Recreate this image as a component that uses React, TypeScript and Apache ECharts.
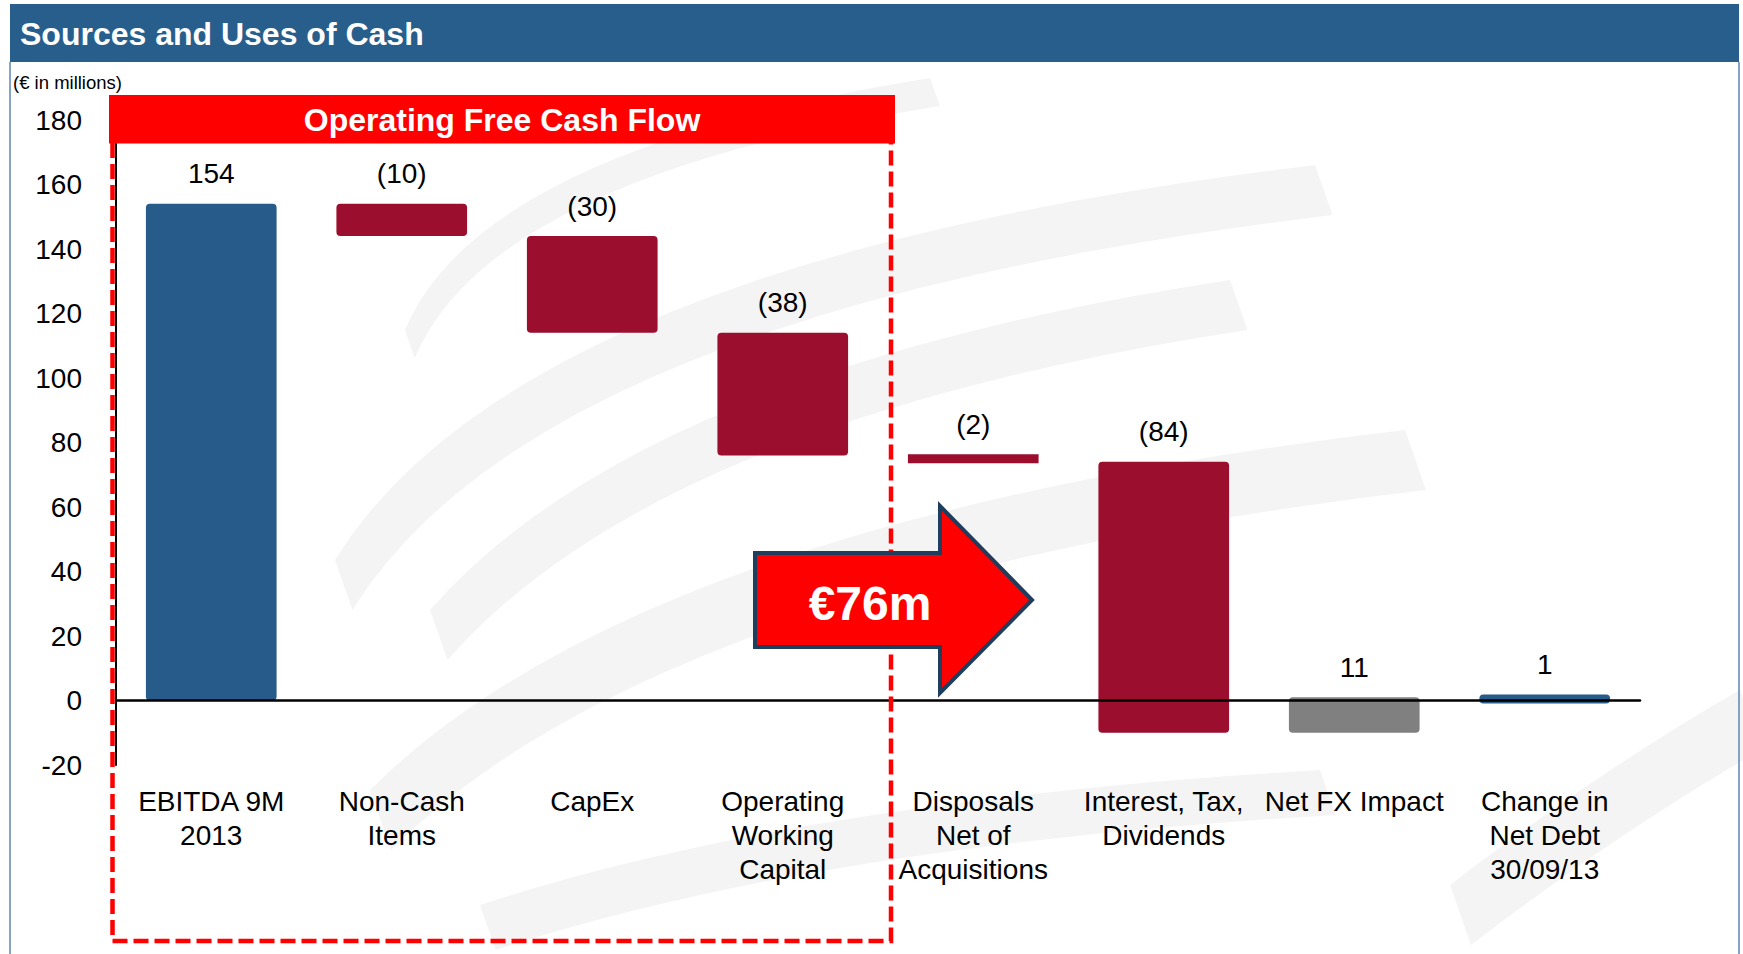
import React, { useEffect, useRef } from "react";
import * as echarts from "echarts";

// ---- data ----
const categories = [
  "EBITDA 9M\n2013",
  "Non-Cash\nItems",
  "CapEx",
  "Operating\nWorking\nCapital",
  "Disposals\nNet of\nAcquisitions",
  "Interest, Tax,\nDividends",
  "Net FX Impact",
  "Change in\nNet Debt\n30/09/13",
];
const amounts = [154, -10, -30, -38, -2, -84, 11, 1];
const kinds = ["total", "step", "step", "step", "step", "step", "step", "total"];
const yMin = -20;
const yMax = 180;
const yStep = 20;
const unitLabel = "(€ in millions)";
const titleText = "Sources and Uses of Cash";
const bannerText = "Operating Free Cash Flow";
const arrowText = "€76m";

const FONT = '"Liberation Sans", Arial, Helvetica, sans-serif';
const BLUE = "#275B8A";
const MAROON = "#9B0E2D";
const GREY = "#808080";

// waterfall ranges built from the amounts
const ranges: number[][] = [];
const barColors: string[] = [];
const barLabels: string[] = [];
{
  let run = 0;
  amounts.forEach((a, i) => {
    let lo: number, hi: number;
    if (kinds[i] === "total") {
      lo = Math.min(0, a);
      hi = Math.max(0, a);
      run = a;
      barColors.push(BLUE);
    } else {
      const end = run + a;
      lo = Math.min(run, end);
      hi = Math.max(run, end);
      run = end;
      barColors.push(a < 0 ? MAROON : GREY);
    }
    ranges.push([i, lo, hi]);
    barLabels.push(a < 0 ? `(${-a})` : `${a}`);
  });
}

// decorative watermark swooshes: [start, control, end, thickness]
const swooshes: number[][] = [
  [405, 330, 480, 150, 930, 78, 28],
  [335, 560, 520, 260, 1315, 165, 50],
  [430, 610, 640, 370, 1230, 280, 50],
  [370, 790, 640, 520, 1405, 430, 60],
  [480, 905, 800, 800, 1320, 770, 45],
  [1450, 885, 1600, 770, 1740, 690, 60],
];

function swooshPoints(s: number[]): number[][] {
  const [x0, y0, cx, cy, x2, y2, t] = s;
  const top: number[][] = [];
  const n = 24;
  for (let k = 0; k <= n; k++) {
    const u = k / n;
    const a = (1 - u) * (1 - u);
    const b = 2 * (1 - u) * u;
    const c = u * u;
    top.push([a * x0 + b * cx + c * x2, a * y0 + b * cy + c * y2]);
  }
  const bottom = top.map(([x, y]) => [x + t * 0.35, y + t]).reverse();
  return top.concat(bottom);
}

export default function App() {
  const ref = useRef<HTMLDivElement>(null);

  useEffect(() => {
    if (!ref.current) return;
    const chart = echarts.init(ref.current, undefined, { renderer: "svg" });

    const graphics: any[] = [];
    swooshes.forEach((s) => {
      graphics.push({
        type: "polygon",
        z: -1,
        shape: { points: swooshPoints(s) },
        style: { fill: "#F4F4F4" },
        silent: true,
      });
    });
    graphics.push(
      {
        type: "rect",
        z: 100,
        shape: { x: 10, y: 4, width: 1729, height: 58 },
        style: { fill: "#275E8C" },
      },
      {
        type: "text",
        z: 101,
        x: 20,
        y: 34,
        style: {
          text: titleText,
          fill: "#FFFFFF",
          font: `bold 32px ${FONT}`,
          verticalAlign: "middle",
        },
      },
      {
        type: "line",
        z: 100,
        shape: { x1: 10, y1: 62, x2: 10, y2: 954 },
        style: { stroke: "#5D87B5", lineWidth: 1.5 },
      },
      {
        type: "line",
        z: 100,
        shape: { x1: 1739, y1: 62, x2: 1739, y2: 954 },
        style: { stroke: "#5D87B5", lineWidth: 1.5 },
      },
      {
        type: "text",
        z: 101,
        x: 13,
        y: 82,
        style: {
          text: unitLabel,
          fill: "#000",
          font: `18.5px ${FONT}`,
          verticalAlign: "middle",
        },
      },
      {
        type: "polyline",
        z: 50,
        shape: {
          points: [
            [112.5, 143],
            [112.5, 941],
            [891, 941],
            [891, 143],
          ],
        },
        style: { stroke: "#FF0000", lineWidth: 4.5, lineDash: [15, 6], fill: null },
      },
      {
        type: "rect",
        z: 100,
        shape: { x: 109, y: 95, width: 786, height: 48.5 },
        style: { fill: "#FF0000" },
      },
      {
        type: "text",
        z: 101,
        x: 502,
        y: 120,
        style: {
          text: bannerText,
          fill: "#FFFFFF",
          font: `bold 32px ${FONT}`,
          align: "center",
          verticalAlign: "middle",
        },
      },
      {
        type: "polygon",
        z: 60,
        shape: {
          points: [
            [755, 553],
            [940, 553],
            [940, 506],
            [1032, 600],
            [940, 693],
            [940, 647],
            [755, 647],
          ],
        },
        style: { fill: "#FF0000", stroke: "#1F3D5C", lineWidth: 4, lineJoin: "miter" },
      },
      {
        type: "text",
        z: 61,
        x: 870,
        y: 603,
        style: {
          text: arrowText,
          fill: "#FFFFFF",
          font: `bold 48px ${FONT}`,
          align: "center",
          verticalAlign: "middle",
        },
      }
    );

    chart.setOption({
      animation: false,
      backgroundColor: "#FFFFFF",
      grid: { left: 116, right: 103, top: 120, bottom: 189, containLabel: false },
      xAxis: {
        type: "category",
        data: categories,
        axisLine: { show: true, onZero: true, lineStyle: { color: "#000", width: 2.5 } },
        axisTick: { show: false },
        axisLabel: {
          interval: 0,
          margin: 19,
          color: "#000",
          fontFamily: FONT,
          fontSize: 28,
          lineHeight: 34,
          align: "center",
        },
        splitLine: { show: false },
        z: 5,
      },
      yAxis: {
        type: "value",
        min: yMin,
        max: yMax,
        interval: yStep,
        axisLine: { show: true, lineStyle: { color: "#000", width: 2 } },
        axisTick: { show: false },
        splitLine: { show: false },
        axisLabel: { color: "#000", fontFamily: FONT, fontSize: 28, margin: 34 },
      },
      graphic: graphics,
      series: [
        {
          type: "custom",
          z: 3,
          encode: { x: 0, y: [1, 2] },
          data: ranges,
          renderItem: (params: any, api: any) => {
            const i = api.value(0);
            const lo = api.value(1);
            const hi = api.value(2);
            const pTop = api.coord([i, hi]);
            const pBot = api.coord([i, lo]);
            const bw = api.size([1, 0])[0] * 0.686;
            let y0 = pTop[1];
            let h = pBot[1] - pTop[1];
            const minH = 9;
            if (h < minH) {
              const mid = y0 + h / 2;
              y0 = mid - minH / 2;
              h = minH;
            }
            const idx = params.dataIndex;
            const r = kinds[idx] === "step" && h < 12 ? 0 : 4;
            return {
              type: "group",
              children: [
                {
                  type: "rect",
                  shape: { x: pTop[0] - bw / 2, y: y0, width: bw, height: h, r },
                  style: { fill: barColors[idx] },
                },
                {
                  type: "text",
                  x: pTop[0],
                  y: y0 - 16,
                  style: {
                    text: barLabels[idx],
                    fill: "#000",
                    font: `28px ${FONT}`,
                    align: "center",
                    verticalAlign: "bottom",
                  },
                },
              ],
            };
          },
        },
      ],
    });

    return () => chart.dispose();
  }, []);

  return (
    <div
      ref={ref}
      style={{ position: "fixed", left: 0, top: 0, width: 1743, height: 954, background: "#fff" }}
    />
  );
}
